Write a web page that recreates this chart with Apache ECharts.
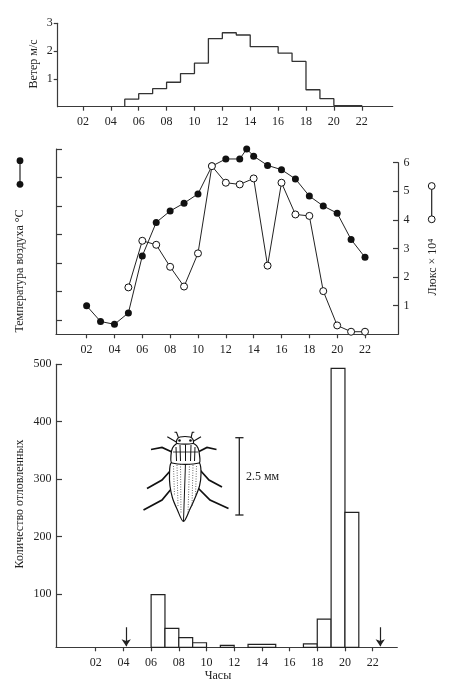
<!DOCTYPE html>
<html lang="ru">
<head>
<meta charset="UTF-8">
<title>Ветер, температура, освещённость и лёт жуков</title>
<script src="https://cdn.jsdelivr.net/npm/echarts@6.0.0/dist/echarts.min.js"></script>
<style>
    html, body { margin: 0; padding: 0; background: #fff; }
    #main { width: 450px; height: 681px; }
</style>
</head>
<body>
<div id="main"></div>
<script>
    // ветер, м/с: час начала ступени и её высота (последняя точка - спад до нуля)
    var windHours = [5, 6, 7, 8, 9, 10, 11, 12, 13, 14, 16, 17, 18, 19, 20, 22];
    var windSpeed = [0.27, 0.47, 0.65, 0.88, 1.19, 1.57, 2.45, 2.66, 2.58, 2.16, 1.93, 1.63, 0.61, 0.29, 0.04, 0];

    // температура воздуха, °C (шкала без подписей)
    var tempHours = [2, 3, 4, 5, 6, 7, 8, 9, 10, 11, 12, 13, 13.5, 14, 15, 16, 17, 18, 19, 20, 21, 22];
    var tempValues = [13.0, 11.9, 11.7, 12.5, 16.5, 18.85, 19.65, 20.2, 20.85, 22.8, 23.3, 23.3, 24.0, 23.5, 22.85, 22.55, 21.9, 20.7, 20.0, 19.5, 17.65, 16.4];

    // освещённость, люкс x 10^4
    var luxHours = [5, 6, 7, 8, 9, 10, 11, 12, 13, 14, 15, 16, 17, 18, 19, 20, 21, 22];
    var luxValues = [1.64, 3.27, 3.13, 2.36, 1.67, 2.83, 5.88, 5.30, 5.24, 5.45, 2.40, 5.30, 4.19, 4.14, 1.51, 0.31, 0.09, 0.09];

    // количество отловленных: интервал (от - до, часы) и число
    var catchFrom = [6, 7, 8, 9, 11, 13, 17, 18, 19, 20];
    var catchTo = [7, 8, 9, 10, 12, 15, 18, 19, 20, 21];
    var catchCount = [99, 40, 24, 15, 10.5, 12.3, 13, 56, 493, 242];

    // стрелки на оси времени
    var arrowHours = [4.2, 22.55];

    // подписи осей
    var hourTicks = [2, 4, 6, 8, 10, 12, 14, 16, 18, 20, 22];
    var windTicks = [1, 2, 3];
    var tempTicks = [12, 14, 16, 18, 20, 22, 24];
    var luxTicks = [1, 2, 3, 4, 5, 6];
    var countTicks = [100, 200, 300, 400, 500];
    var countMin = 7.1;

    var FONT = 'Liberation Serif';
    var INK = '#222';
    var AXIS = '#3a3a3a';

    function pair(xs, ys) {
        var out = [];
        for (var i = 0; i < xs.length; i++) out.push([xs[i], ys[i]]);
        return out;
    }

    function hourLabel(v) {
        return (v < 10 ? '0' : '') + v;
    }

    function xAxisCfg(grid, min, max, margin, show) {
        return {
            type: 'value', gridIndex: grid, min: min, max: max, show: show,
            splitLine: { show: false },
            axisLine: { onZero: false, lineStyle: { color: AXIS, width: 1.2 } },
            axisTick: { customValues: hourTicks, inside: false, length: 4, lineStyle: { color: AXIS, width: 1.2 } },
            axisLabel: { customValues: hourTicks, formatter: hourLabel, margin: margin, color: INK, fontFamily: FONT, fontSize: 12 }
        };
    }

    function yAxisCfg(grid, min, max, ticks, inside, len, margin, labels, pos) {
        return {
            type: 'value', gridIndex: grid, min: min, max: max, position: pos || 'left',
            splitLine: { show: false },
            axisLine: { onZero: false, lineStyle: { color: AXIS, width: 1.2 } },
            axisTick: { customValues: ticks, inside: inside, length: len, lineStyle: { color: AXIS, width: 1.2 } },
            axisLabel: { show: labels, customValues: ticks, margin: margin, color: INK, fontFamily: FONT, fontSize: 12 }
        };
    }

    var windData = [[windHours[0], 0]].concat(pair(windHours, windSpeed));

    var catchData = [];
    for (var i = 0; i < catchFrom.length; i++) {
        catchData.push([catchFrom[i], catchTo[i], catchCount[i]]);
    }

    var arrowData = [];
    for (var j = 0; j < arrowHours.length; j++) {
        arrowData.push({ coords: [[arrowHours[j], 42], [arrowHours[j], 9]] });
    }

    var myChart = echarts.init(document.getElementById('main'), null, { renderer: 'canvas' });

    var leg = { stroke: '#111', lineWidth: 1.7, fill: null };
    var thin = { stroke: '#111', lineWidth: 1.1, fill: null };
    var dots = { stroke: '#444', lineWidth: 0.8, lineDash: [1, 1.5] };
    var rib = { stroke: '#111', lineWidth: 1 };
    var label12 = '12px "Liberation Serif"';

    var option = {
        backgroundColor: '#fff',
        animation: false,
        grid: [
            { left: 57.7, top: 23.3, width: 335, height: 83.4 },
            { left: 56, top: 149, width: 342, height: 185.3 },
            { left: 56, top: 162.7, width: 342, height: 171.6 },
            { left: 56, top: 364.3, width: 341.3, height: 283 }
        ],
        xAxis: [
            xAxisCfg(0, 0.19, 24.22, 9, true),
            xAxisCfg(1, -0.2, 24.37, 10, true),
            xAxisCfg(2, -0.2, 24.37, 10, false),
            xAxisCfg(3, -0.87, 23.78, 9.5, true)
        ],
        yAxis: [
            yAxisCfg(0, 0, 3, windTicks, false, 4, 5, true),
            yAxisCfg(1, 11, 24, tempTicks, true, 6, 5, false),
            yAxisCfg(2, 0, 6, luxTicks, true, 5, 5.5, true, 'right'),
            yAxisCfg(3, countMin, 500, countTicks, true, 6, 4.5, true)
        ],
        series: [
            {
                name: 'Ветер', type: 'line', xAxisIndex: 0, yAxisIndex: 0,
                step: 'end', showSymbol: false, data: windData,
                lineStyle: { color: '#333', width: 1.3 }
            },
            {
                name: 'Температура', type: 'line', xAxisIndex: 1, yAxisIndex: 1,
                data: pair(tempHours, tempValues), clip: false,
                symbol: 'circle', symbolSize: 7,
                lineStyle: { color: INK, width: 1 },
                itemStyle: { color: '#111', borderColor: '#111', borderWidth: 0 }
            },
            {
                name: 'Люкс', type: 'line', xAxisIndex: 2, yAxisIndex: 2,
                data: pair(luxHours, luxValues), clip: false,
                symbol: 'circle', symbolSize: 7, z: 3,
                lineStyle: { color: INK, width: 1 },
                itemStyle: { color: '#fff', borderColor: '#111', borderWidth: 1 }
            },
            {
                name: 'Отловлено', type: 'custom', xAxisIndex: 3, yAxisIndex: 3,
                data: catchData,
                encode: { x: [0, 1], y: 2 },
                renderItem: function (params, api) {
                    var p0 = api.coord([api.value(0), countMin]);
                    var p1 = api.coord([api.value(1), api.value(2)]);
                    return {
                        type: 'rect',
                        shape: { x: p0[0], y: p1[1], width: p1[0] - p0[0], height: p0[1] - p1[1] },
                        style: { fill: '#fff', stroke: INK, lineWidth: 1.2 }
                    };
                }
            },
            {
                name: 'Стрелки', type: 'lines', coordinateSystem: 'cartesian2d',
                xAxisIndex: 3, yAxisIndex: 3,
                symbol: ['none', 'arrow'], symbolSize: 7,
                lineStyle: { color: INK, width: 1.2, opacity: 1, curveness: 0 },
                data: arrowData
            }
        ],
        graphic: [
            // подписи осей
            { type: 'text', x: 34, y: 64, rotation: Math.PI / 2, style: { text: 'Ветер м/с', fill: INK, font: label12, align: 'center', verticalAlign: 'middle' } },
            { type: 'text', x: 20, y: 271, rotation: Math.PI / 2, style: { text: 'Температура воздуха °C', fill: INK, font: label12, align: 'center', verticalAlign: 'middle' } },
            { type: 'text', x: 433, y: 267, rotation: Math.PI / 2, style: { text: 'Люкс × 10⁴', fill: INK, font: label12, align: 'center', verticalAlign: 'middle' } },
            { type: 'text', x: 20, y: 504, rotation: Math.PI / 2, style: { text: 'Количество отловленных', fill: INK, font: label12, align: 'center', verticalAlign: 'middle' } },
            { type: 'text', x: 218, y: 676, style: { text: 'Часы', fill: INK, font: label12, align: 'center', verticalAlign: 'middle' } },

            // условные знаки рядов
            { type: 'line', shape: { x1: 20, y1: 160.7, x2: 20, y2: 184.3 }, style: { stroke: INK, lineWidth: 1.2 } },
            { type: 'circle', shape: { cx: 20, cy: 160.7, r: 3.4 }, style: { fill: '#111' } },
            { type: 'circle', shape: { cx: 20, cy: 184.3, r: 3.4 }, style: { fill: '#111' } },
            { type: 'line', shape: { x1: 431.7, y1: 186, x2: 431.7, y2: 219.3 }, style: { stroke: INK, lineWidth: 1.2 } },
            { type: 'circle', shape: { cx: 431.7, cy: 186, r: 3.4 }, style: { fill: '#fff', stroke: '#111', lineWidth: 1 } },
            { type: 'circle', shape: { cx: 431.7, cy: 219.3, r: 3.4 }, style: { fill: '#fff', stroke: '#111', lineWidth: 1 } },

            // масштаб 2.5 мм
            { type: 'line', shape: { x1: 239.3, y1: 437.7, x2: 239.3, y2: 515 }, style: { stroke: INK, lineWidth: 1.3 } },
            { type: 'line', shape: { x1: 235.3, y1: 437.7, x2: 243.5, y2: 437.7 }, style: { stroke: INK, lineWidth: 1.3 } },
            { type: 'line', shape: { x1: 235.3, y1: 515, x2: 243.5, y2: 515 }, style: { stroke: INK, lineWidth: 1.3 } },
            { type: 'text', x: 246, y: 477, style: { text: '2.5 мм', fill: INK, font: label12, align: 'left', verticalAlign: 'middle' } },

            // жук: ноги
            { type: 'polyline', shape: { points: [[172, 452], [162, 447.5], [151, 449.5]] }, style: leg },
            { type: 'polyline', shape: { points: [[198, 452], [207, 447.5], [216.5, 449.5]] }, style: leg },
            { type: 'polyline', shape: { points: [[171, 470], [162, 480], [147, 488.5]] }, style: leg },
            { type: 'polyline', shape: { points: [[200, 470], [209, 480], [222, 487]] }, style: leg },
            { type: 'polyline', shape: { points: [[172, 488], [162, 500], [143.5, 510]] }, style: leg },
            { type: 'polyline', shape: { points: [[198, 488], [210, 500], [228.5, 508.5]] }, style: leg },
            // усики и щупики
            { type: 'polyline', shape: { points: [[167.3, 436.7], [176.7, 442.3]] }, style: thin },
            { type: 'polyline', shape: { points: [[201, 436.7], [191.7, 442.3]] }, style: thin },
            { type: 'polyline', shape: { points: [[174.5, 432.3], [176.5, 432.3], [179.3, 440]] }, style: thin },
            { type: 'polyline', shape: { points: [[194.3, 432.3], [192.3, 432.3], [190.5, 440]] }, style: thin },
            // надкрылья
            {
                type: 'polygon',
                shape: { smooth: 0.3, points: [[171, 463], [169.5, 474], [170, 486], [172.5, 498], [177, 509], [183.5, 521.5], [190, 509], [195, 498], [199.5, 486], [201, 474], [199.5, 463], [192, 461.5], [185.5, 462.5], [178, 461.5]] },
                style: { fill: '#fff', stroke: '#111', lineWidth: 1.2 }
            },
            { type: 'line', shape: { x1: 185.5, y1: 462.5, x2: 183.5, y2: 521 }, style: rib },
            { type: 'line', shape: { x1: 173.5, y1: 466, x2: 174.5, y2: 496 }, style: dots },
            { type: 'line', shape: { x1: 177, y1: 465, x2: 178, y2: 507 }, style: dots },
            { type: 'line', shape: { x1: 180.5, y1: 464, x2: 181, y2: 514 }, style: dots },
            { type: 'line', shape: { x1: 189.5, y1: 464, x2: 188, y2: 514 }, style: dots },
            { type: 'line', shape: { x1: 193, y1: 465, x2: 192, y2: 507 }, style: dots },
            { type: 'line', shape: { x1: 196.5, y1: 466, x2: 195.5, y2: 496 }, style: dots },
            // переднеспинка
            {
                type: 'polygon',
                shape: { smooth: 0.3, points: [[172, 463], [171, 455], [172.5, 448], [176, 444], [181, 442.5], [189, 442.5], [194.5, 444], [198, 448], [199.5, 455], [199, 463]] },
                style: { fill: '#fff', stroke: '#111', lineWidth: 1.2 }
            },
            { type: 'line', shape: { x1: 176, y1: 447, x2: 176.5, y2: 461 }, style: rib },
            { type: 'line', shape: { x1: 180, y1: 445, x2: 180.5, y2: 461 }, style: rib },
            { type: 'line', shape: { x1: 185.5, y1: 444.5, x2: 185.5, y2: 461 }, style: rib },
            { type: 'line', shape: { x1: 191, y1: 445, x2: 190.5, y2: 461 }, style: rib },
            { type: 'line', shape: { x1: 195, y1: 447, x2: 194.5, y2: 461 }, style: rib },
            { type: 'line', shape: { x1: 173, y1: 452, x2: 198, y2: 452 }, style: { stroke: '#111', lineWidth: 0.8 } },
            // голова
            {
                type: 'polygon',
                shape: { smooth: 0.3, points: [[177, 443.5], [177, 439.5], [180, 437], [190, 437], [193, 439.5], [193, 443.5]] },
                style: { fill: '#fff', stroke: '#111', lineWidth: 1.2 }
            },
            { type: 'circle', shape: { cx: 179.5, cy: 440.5, r: 1.3 }, style: { fill: '#111' } },
            { type: 'circle', shape: { cx: 190.5, cy: 440.5, r: 1.3 }, style: { fill: '#111' } }
        ]
    };

    myChart.setOption(option);
</script>
</body>
</html>
